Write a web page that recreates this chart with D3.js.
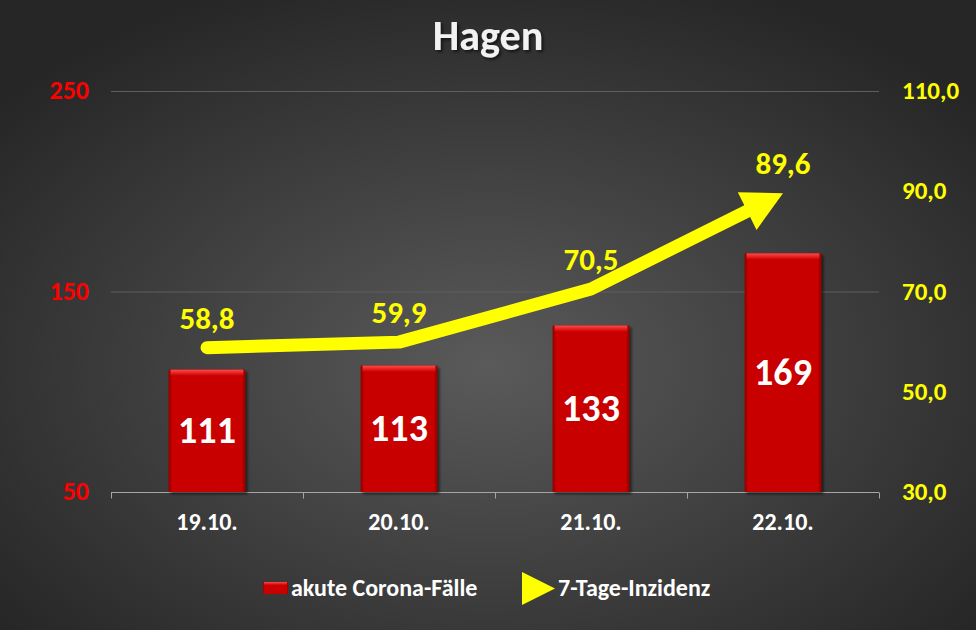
<!DOCTYPE html>
<html>
<head>
<meta charset="utf-8">
<script src="https://cdn.jsdelivr.net/npm/d3@7"></script>
<style>
  body { margin: 0; background: #2b2b2b; }
  svg { display: block; font-family: Carlito, "Open Sans", sans-serif; font-weight: bold; }
</style>
</head>
<body>
<script>
// data
var days = ["19.10.", "20.10.", "21.10.", "22.10."];
var cases = [111, 113, 133, 169];
var incidence = [58.8, 59.9, 70.5, 89.6];
var leftTicks = [50, 150, 250];
var rightTicks = [30, 50, 70, 90, 110];
var gridTicks = [150, 250];

var width = 976, height = 630;
var margin = {left: 111, right: 97, top: 91, bottom: 138};

var svg = d3.select("body").append("svg")
    .attr("width", width)
    .attr("height", height);

var defs = svg.append("defs");

// background radial gradient
var bg = defs.append("radialGradient").attr("id", "bg")
    .attr("cx", "50%").attr("cy", "58%").attr("r", "65%");
bg.append("stop").attr("offset", "0%").attr("stop-color", "#5a5a5a");
bg.append("stop").attr("offset", "100%").attr("stop-color", "#262626");

// bar side bevel
var barG = defs.append("linearGradient").attr("id", "barSide")
    .attr("x1", "0").attr("x2", "1").attr("y1", "0").attr("y2", "0");
barG.append("stop").attr("offset", "0%").attr("stop-color", "#8e0000");
barG.append("stop").attr("offset", "5%").attr("stop-color", "#c80000");
barG.append("stop").attr("offset", "95%").attr("stop-color", "#c80000");
barG.append("stop").attr("offset", "100%").attr("stop-color", "#8e0000");

var barTop = defs.append("linearGradient").attr("id", "barTop")
    .attr("x1", "0").attr("x2", "0").attr("y1", "0").attr("y2", "1");
barTop.append("stop").attr("offset", "0%").attr("stop-color", "#ff4a4a");
barTop.append("stop").attr("offset", "100%").attr("stop-color", "#d00000");

var shadow = defs.append("filter").attr("id", "shadow")
    .attr("x", "-20%").attr("y", "-20%").attr("width", "140%").attr("height", "140%");
shadow.append("feDropShadow").attr("dx", 2).attr("dy", 2).attr("stdDeviation", 1.5)
    .attr("flood-color", "#000").attr("flood-opacity", 0.6);

svg.append("rect").attr("width", width).attr("height", height).attr("fill", "url(#bg)");

// scales
var x = d3.scaleBand()
    .domain(days)
    .range([margin.left, width - margin.right]);

var yLeft = d3.scaleLinear()
    .domain([50, 250])
    .range([height - margin.bottom, margin.top]);

var yRight = d3.scaleLinear()
    .domain([30, 110])
    .range([height - margin.bottom, margin.top]);

var barW = x.bandwidth() * 0.4;

// gridlines
svg.selectAll(".grid")
    .data(gridTicks)
    .enter().append("line")
    .attr("class", "grid")
    .attr("x1", margin.left).attr("x2", width - margin.right)
    .attr("y1", function(d){ return yLeft(d) + 0.5; })
    .attr("y2", function(d){ return yLeft(d) + 0.5; })
    .attr("stroke", "#5e5e5e").attr("stroke-width", 1);

// x axis
var xAxis = svg.append("g")
    .attr("transform", "translate(0," + (yLeft(50) + 0.5) + ")");
xAxis.append("line")
    .attr("x1", margin.left).attr("x2", width - margin.right)
    .attr("stroke", "#a6a6a6");
var bounds = days.map(function(d){ return x(d); }).concat([x(days[days.length - 1]) + x.bandwidth()]);
xAxis.selectAll(".tick")
    .data(bounds)
    .enter().append("line")
    .attr("x1", function(d){ return Math.round(d) + 0.5; })
    .attr("x2", function(d){ return Math.round(d) + 0.5; })
    .attr("y1", 0).attr("y2", 6)
    .attr("stroke", "#a6a6a6");
xAxis.selectAll(".lbl")
    .data(days)
    .enter().append("text")
    .attr("x", function(d){ return x(d) + x.bandwidth() / 2; })
    .attr("y", 37)
    .attr("text-anchor", "middle")
    .attr("fill", "#ffffff")
    .attr("font-size", 24)
    .text(function(d){ return d; });

// left axis labels
svg.selectAll(".ly")
    .data(leftTicks)
    .enter().append("text")
    .attr("x", 89)
    .attr("y", function(d){ return yLeft(d) + 8; })
    .attr("text-anchor", "end")
    .attr("fill", "#ff0000")
    .attr("font-size", 26)
    .text(function(d){ return d; });

// right axis labels
svg.selectAll(".ry")
    .data(rightTicks)
    .enter().append("text")
    .attr("x", 902)
    .attr("y", function(d){ return yRight(d) + 8; })
    .attr("fill", "#ffff00")
    .attr("font-size", 25)
    .text(function(d){ return d3.format(".1f")(d).replace(".", ","); });

// bars
var bars = svg.selectAll(".bar")
    .data(days)
    .enter().append("g")
    .attr("class", "bar");
bars.append("rect")
    .attr("x", function(d){ return x(d) + (x.bandwidth() - barW) / 2; })
    .attr("y", function(d, i){ return yLeft(cases[i]); })
    .attr("width", barW)
    .attr("height", function(d, i){ return yLeft(50) - yLeft(cases[i]); })
    .attr("fill", "url(#barSide)")
    .attr("filter", "url(#shadow)");
bars.append("rect")
    .attr("x", function(d){ return x(d) + (x.bandwidth() - barW) / 2 + 2; })
    .attr("y", function(d, i){ return yLeft(cases[i]); })
    .attr("width", barW - 4)
    .attr("height", 6)
    .attr("fill", "url(#barTop)");
bars.append("text")
    .attr("x", function(d){ return x(d) + x.bandwidth() / 2; })
    .attr("y", function(d, i){ return (yLeft(cases[i]) + yLeft(50)) / 2 + 12; })
    .attr("text-anchor", "middle")
    .attr("fill", "#ffffff")
    .attr("font-size", 38)
    .text(function(d, i){ return cases[i]; });

// incidence line with arrow head
var pts = days.map(function(d, i){ return [x(d) + x.bandwidth() / 2, yRight(incidence[i])]; });
var tip = pts[pts.length - 1], prev = pts[pts.length - 2];
var dx = tip[0] - prev[0], dy = tip[1] - prev[1], len = Math.sqrt(dx * dx + dy * dy);
var ux = dx / len, uy = dy / len;
var headL = 40, headW = 21;
var base = [tip[0] - ux * headL, tip[1] - uy * headL];
var linePts = pts.slice(0, -1).concat([[base[0] + ux * 4, base[1] + uy * 4]]);

svg.append("path")
    .datum(linePts)
    .attr("d", d3.line())
    .attr("fill", "none")
    .attr("stroke", "#ffff00")
    .attr("stroke-width", 13)
    .attr("stroke-linecap", "round")
    .attr("stroke-linejoin", "round");

svg.append("path")
    .datum([tip,
        [base[0] - uy * headW, base[1] + ux * headW],
        [base[0] + uy * headW, base[1] - ux * headW]])
    .attr("d", function(d){ return d3.line()(d) + "Z"; })
    .attr("fill", "#ffff00");

svg.selectAll(".il")
    .data(incidence)
    .enter().append("text")
    .attr("x", function(d, i){ return pts[i][0]; })
    .attr("y", function(d, i){ return pts[i][1] - 19; })
    .attr("text-anchor", "middle")
    .attr("fill", "#ffff00")
    .attr("font-size", 31)
    .text(function(d){ return d3.format(".1f")(d).replace(".", ","); });

// title
svg.append("text")
    .attr("x", width / 2)
    .attr("y", 50)
    .attr("text-anchor", "middle")
    .attr("fill", "#f2f2f2")
    .attr("font-size", 42)
    .attr("filter", "url(#shadow)")
    .text("Hagen");

// legend
var legend = svg.append("g");
legend.append("rect")
    .attr("x", 263).attr("y", 582).attr("width", 25).attr("height", 12)
    .attr("fill", "url(#barSide)");
legend.append("rect")
    .attr("x", 264).attr("y", 582).attr("width", 23).attr("height", 3)
    .attr("fill", "url(#barTop)");
legend.append("text")
    .attr("x", 291).attr("y", 596)
    .attr("fill", "#ffffff").attr("font-size", 24)
    .text("akute Corona-Fälle");
legend.append("path")
    .attr("d", "M522,572L555,588.5L522,605Z")
    .attr("fill", "#ffff00");
legend.append("text")
    .attr("x", 558).attr("y", 596)
    .attr("fill", "#ffffff").attr("font-size", 24)
    .text("7-Tage-Inzidenz");
</script>
</body>
</html>
